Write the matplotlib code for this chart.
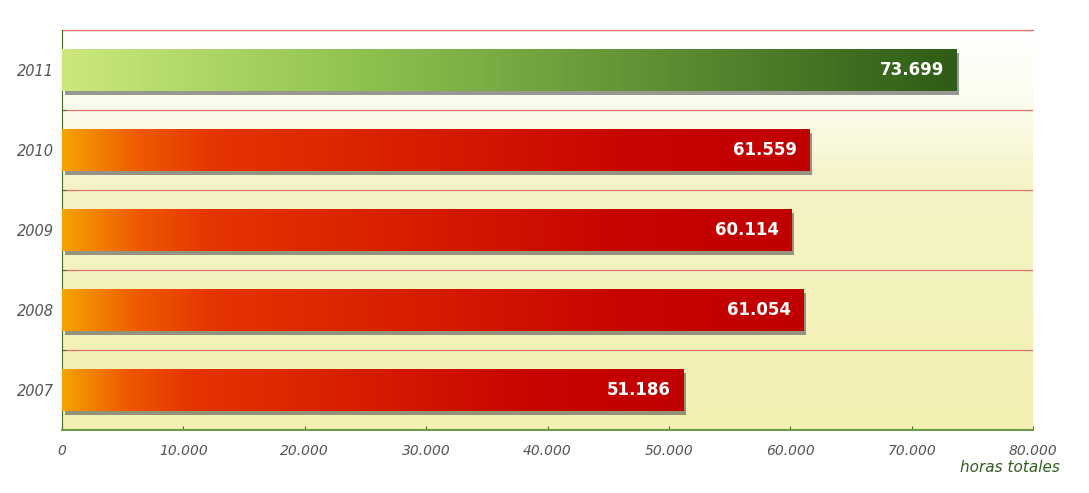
import matplotlib
matplotlib.use('Agg')
import matplotlib.pyplot as plt
import matplotlib.patheffects as pe
from matplotlib.colors import LinearSegmentedColormap
import numpy as np

years = ["2007", "2008", "2009", "2010", "2011"]
hours = [51186, 61054, 60114, 61559, 73699]
xticks = [0, 10000, 20000, 30000, 40000, 50000, 60000, 70000, 80000]


def fmt(v):
    return f"{v:,}".replace(",", ".")


fig = plt.figure(figsize=(10.89, 4.93), dpi=100)
ax = fig.add_axes([62 / 1089, 1 - 430 / 493, (1033 - 62) / 1089, 400 / 493])
ax.set_xlim(0, 80000)
ax.set_ylim(-0.5, len(years) - 0.5)

# background: white at top fading to pale yellow
bg = LinearSegmentedColormap.from_list("bg", [(0, "#f2f0b2"), (0.6, "#f5f3c4"), (0.8, "#fcfcec"), (1, "#ffffff")])
grad = np.linspace(0, 1, 256).reshape(-1, 1)
ax.imshow(grad, cmap=bg, aspect="auto", origin="lower",
          extent=[0, 80000, -0.5, len(years) - 0.5], zorder=0)

# red separators between rows
for b in np.arange(0.5, len(years), 1.0):
    ax.axhline(b, color="#e07070", lw=0.9, zorder=1)

red = LinearSegmentedColormap.from_list("red", [(0, "#f5a300"), (0.1, "#ee5a00"), (0.2, "#e53500"), (0.75, "#c80600"), (1, "#c00000")])
green = LinearSegmentedColormap.from_list("green", [(0, "#cbe87e"), (0.35, "#8cc04e"), (1, "#2e5c17")])

h = 0.52
bars = ax.barh(range(len(years)), hours, height=h, zorder=2,
               color=["#c00000"] * 4 + ["#2e5c17"], edgecolor="none")
row = np.linspace(0, 1, 256).reshape(1, -1)
for i, (bar, v) in enumerate(zip(bars, hours)):
    bar.set_path_effects([pe.SimplePatchShadow(offset=(2, -3), shadow_rgbFace="#555555", alpha=0.6), pe.Normal()])
    cmap = green if years[i] == "2011" else red
    im = ax.imshow(row, cmap=cmap, aspect="auto", extent=[0, v, i - h / 2, i + h / 2], zorder=3)
    im.set_clip_path(bar)
    ax.annotate(fmt(v), (v, i), xytext=(-9, 0), textcoords="offset points",
                ha="right", va="center", color="white", fontsize=12, fontweight="bold", zorder=4)

ax.set_xticks(xticks)
ax.set_xticklabels([fmt(t) for t in xticks], fontsize=10, style="italic", color="#555555")
ax.set_yticks(np.arange(0.5, len(years) - 1, 1.0))
ax.set_yticklabels([])
ax.set_yticks(range(len(years)), minor=True)
ax.set_yticklabels(years, minor=True, fontsize=10.5, style="italic", color="#555555")
ax.tick_params(axis="y", which="minor", length=0, pad=6)
ax.tick_params(axis="y", which="major", direction="in", length=3, color="#3f6f22")
ax.tick_params(axis="x", direction="in", length=3, color="#3f6f22", pad=10)

for s in ["top", "right"]:
    ax.spines[s].set_visible(False)
ax.spines["left"].set_color("#3f6f22")
ax.spines["bottom"].set_color("#6f9a4a")
ax.spines["bottom"].set_linewidth(1.5)
ax.axhline(len(years) - 0.5, color="#e07070", lw=0.9, zorder=1, clip_on=False)

fig.text(1060 / 1089, 1 - 467 / 493, "horas totales", ha="right", va="center",
         fontsize=11, style="italic", color="#2f5e1a")

fig.savefig("out.png", dpi=100, facecolor="white")
